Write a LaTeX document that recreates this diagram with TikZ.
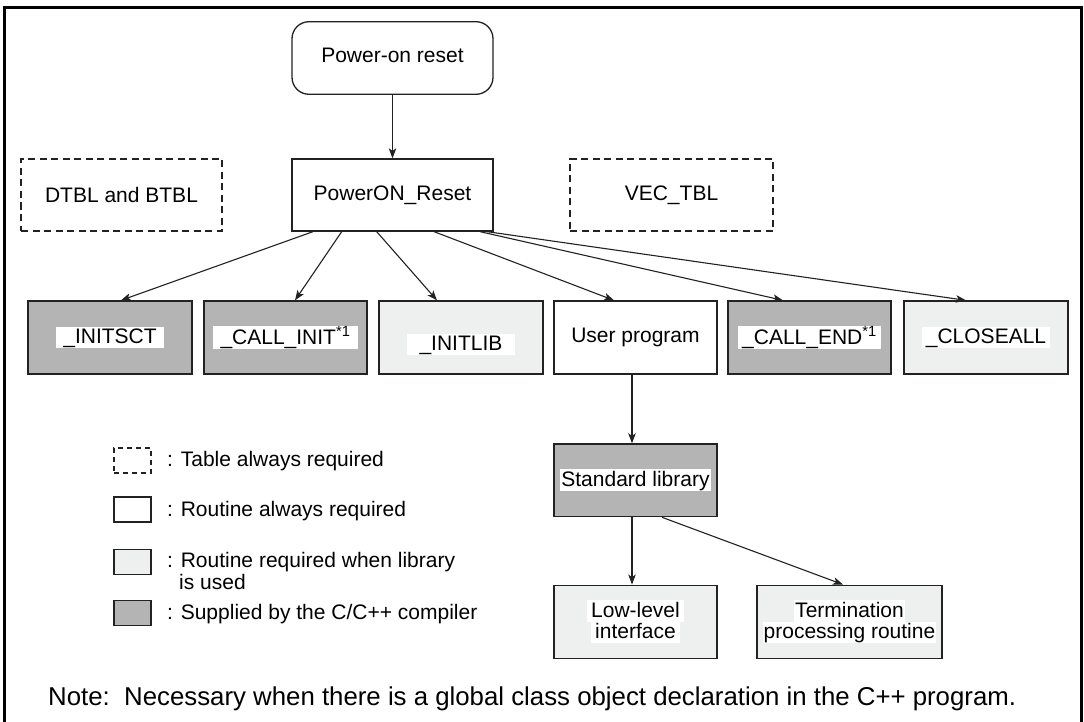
\documentclass[tikz,border=0pt]{standalone}
\usepackage{fontspec}
\setmainfont{Liberation Sans}
\usetikzlibrary{arrows.meta}
\definecolor{dk}{HTML}{B4B4B4}
\definecolor{lt}{HTML}{EEEFEF}
\definecolor{ln}{HTML}{222222}
\newcommand\wl[2][5pt]{{\setlength\fboxsep{0pt}\colorbox{white}{\hspace{#1}\rule[-4.5pt]{0pt}{21.7pt}#2\hspace{#1}}}}
\begin{document}
\begin{tikzpicture}[x=1pt,y=-1pt,
  font=\fontsize{21}{21.7}\selectfont,
  box/.style={draw=ln, line width=1.3pt, minimum height=73pt, inner sep=0pt, align=center, text=black},
  tbl/.style={box, dashed, dash pattern=on 7pt off 4.5pt, line width=1.2pt},
  dkbox/.style={box, fill=dk},
  ltbox/.style={box, fill=lt},
  wbox/.style={box, fill=white},
  lg/.style={draw=ln, line width=1.2pt, minimum width=37pt, minimum height=25pt, inner sep=0pt},
  arr/.style={draw=ln, line width=1.1pt, -{Stealth[length=10pt,width=7.5pt,inset=2.5pt]}},
  txt/.style={anchor=base west, inner sep=0pt}]
\useasboundingbox (0,0) rectangle (1084,722);
\clip (0,0) rectangle (1084,722);
\fill[white] (0,0) rectangle (1084,722);
\draw[line width=2.7pt] (4.7,740) -- (4.7,7.5) -- (1081.5,7.5) -- (1081.5,740);

% top
\node[box, rounded corners=17pt, minimum width=201pt, minimum height=72.6pt] (por) at (392.5,58) {};
\node[inner sep=0pt] (port) at ([yshift=3pt]por.center) {Power-on reset};
\node[wbox, minimum width=201pt, minimum height=72pt] (pr) at (392.5,195) {PowerON\_Reset};
\node[tbl, minimum width=201pt, minimum height=72pt] (dtbl) at (121.5,195) {DTBL and BTBL};
\node[tbl, minimum width=203pt, minimum height=72pt] (vec) at (671.5,195) {VEC\_TBL};

% row
\node[dkbox, minimum width=164pt] (sct) at (110,337.5) {\wl[7pt]{\_INITSCT}};
\node[dkbox, minimum width=163pt] (cin) at (285.5,337.5) {\wl[8pt]{\_CALL\_INIT\textsuperscript{*1}}};
\node[ltbox, minimum width=164pt] (lib) at (461,337.5) {};
\node[inner sep=0pt] (libt) at ([yshift=-7pt]lib.center) {\wl[13pt]{\_INITLIB}};
\node[wbox, minimum width=163pt] (usr) at (635.5,337.5) {User program};
\node[dkbox, minimum width=163pt] (cend) at (809.5,337.5) {\wl[4pt]{\_CALL\_END\textsuperscript{*1}}};
\node[ltbox, minimum width=164pt] (cla) at (986,337.5) {\wl[4pt]{\_CLOSEALL}};

% lower
\node[dkbox, minimum width=163pt, minimum height=72.7pt] (std) at (635.5,480.3) {\wl[1pt]{Standard library}};
\node[ltbox, minimum width=163pt] (low) at (635.5,621.7) {\wl[4pt]{Low-level}\\\wl[4pt]{interface}};
\node[ltbox, minimum width=185pt] (term) at (849.5,621.7) {\wl[1pt]{Termination}\\\wl[1pt]{processing routine}};

% connectors
\draw[arr] (por) -- (pr);
\draw[arr] ([xshift=-79.5pt]pr.south) -- ([xshift=11pt]sct.north);
\draw[arr] ([xshift=-50.8pt]pr.south) -- ([xshift=9.5pt]cin.north);
\draw[arr] ([xshift=-15.8pt]pr.south) -- ([xshift=-24pt]lib.north);
\draw[arr] ([xshift=41.5pt]pr.south) -- ([xshift=-21.5pt]usr.north);
\draw[arr] ([xshift=87.5pt]pr.south) -- ([xshift=-26.5pt]cend.north);
\draw[arr] ([xshift=94.5pt]pr.south) -- ([xshift=-20pt]cla.north);
\draw[arr] ([xshift=-3.5pt]usr.south) -- ([xshift=-3.5pt]std.north);
\draw[arr] ([xshift=-3.5pt]std.south) -- ([xshift=-3.5pt]low.north);
\draw[arr] ([xshift=26.5pt]std.south) -- ([xshift=-6.5pt]term.north);

% legend
\node[lg, dashed, dash pattern=on 5pt off 4pt] (lg1) at (132.5,460.5) {};
\node[lg, fill=white] (lg2) at (132.5,509.5) {};
\node[lg, fill=lt] (lg3) at (132.5,562) {};
\node[lg, fill=dk] (lg4) at (132.5,613) {};
\node[txt] (t1) at (167,466.7) {: Table always required};
\node[txt] (t2) at (167,516.7) {: Routine always required};
\node[txt, text depth=0pt] (t3) at (167,567.8) {: Routine required when library};
\node[txt] (t3b) at (179,589) {is used};
\node[txt] (t4) at (167,619.8) {: Supplied by the C/C++ compiler};

% note
\node[txt, font=\fontsize{25.8}{28}\selectfont] (note) at (48,705) {Note:\ \ Necessary when there is a global class object declaration in the C++ program.};
\end{tikzpicture}
\end{document}
